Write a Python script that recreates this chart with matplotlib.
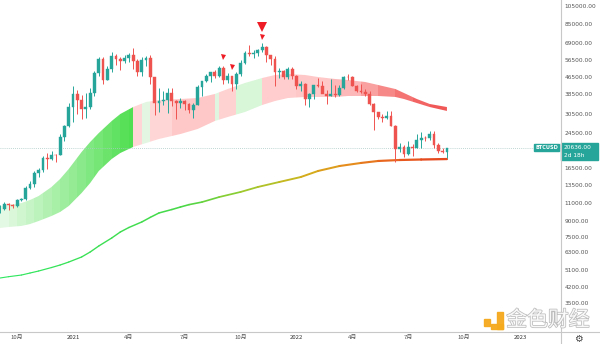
import numpy as np
import pandas as pd
import matplotlib
matplotlib.use('Agg')
import matplotlib.pyplot as plt
import matplotlib.dates as mdates
import matplotlib.patheffects as pe
from matplotlib.patches import Polygon, Rectangle
from matplotlib.collections import LineCollection
from matplotlib.colors import LinearSegmentedColormap
from matplotlib.lines import Line2D

# ---------------- data ----------------
# weekly BTCUSD candles, first week 2020-09-07
week_dates = pd.date_range('2020-09-07', periods=105, freq='7D')
opens = [10280, 10330, 10920, 10780, 10670, 11380, 11500, 13030, 13760, 15480, 16050, 18400, 18190, 19160, 19100, 23480, 26480,
         33000, 38150, 35800, 32260, 33100, 38900, 48600, 57400, 45200, 51000, 59000, 57400, 55800, 58200, 59800, 56200,
         49100, 56600, 58200, 46400, 34700, 35600, 35800, 39000, 35500, 34700, 35300, 34200, 31800, 34000, 41500, 44400,
         47000, 49300, 47100, 51800, 45200, 47300, 42800, 48200, 54700, 61500, 60900, 61300, 63300, 65500, 59700, 57200,
         49400, 50100, 46700, 50800,
         47300, 41900, 43100, 36300, 38500, 42400, 42200, 38400, 37700, 38400, 37800, 41300, 46800, 46400, 42200, 39700,
         39400, 38500, 34300, 31300, 29400, 29000, 29900, 26600, 20550, 21000, 19300, 20850, 20800, 22600, 23300, 23200,
         24400, 21500, 20000, 19800]
highs = [10800, 11180, 10990, 10950, 11490, 11720, 13350, 14100, 15960, 16490, 18800, 19500, 19920, 19420, 24300, 26900, 34800,
         41950, 40100, 37850, 38600, 41000, 49700, 58300, 58300, 52600, 61800, 60600, 58500, 60100, 61200, 64900, 57000,
         58500, 59500, 59600, 46600, 40900, 39500, 41300, 41000, 36000, 36600, 35900, 34700, 34500, 42600, 44700, 48200,
         49400, 50500, 52900, 52800, 48800, 47400, 49200, 56600, 62900, 67000, 63700, 64300, 69000, 66300, 59900, 59400,
         51900, 50600, 52100, 52100,
         47600, 44500, 43500, 38900, 42700, 45900, 44700, 40000, 45400, 42600, 42300, 47000, 48200, 47200, 42400, 42900,
         40800, 39900, 34600, 31400, 30600, 31700, 31600, 26900, 21900, 21500, 22500, 21600, 24300, 24700, 23600, 25200,
         25200, 21800, 20600, 20800]
lows = [9880, 10200, 10140, 10370, 10530, 11220, 11400, 12900, 13200, 14800, 15800, 16200, 18100, 17600, 19000, 22400, 26300,
        27800, 30400, 28800, 29200, 32300, 37400, 47000, 43000, 44900, 49300, 53200, 50300, 55000, 55500, 51200, 47000,
        47000, 53000, 43000, 30000, 31200, 34000, 31000, 33300, 28800, 32700, 32100, 31000, 29300, 33800, 37300, 43800,
        44200, 46300, 46500, 42800, 43400, 39600, 40800, 46900, 54000, 59500, 58000, 59500, 62300, 55600, 53500, 42000,
        46000, 45600, 45600, 45700,
        40500, 39600, 34000, 32900, 36200, 41700, 39400, 34300, 37500, 37200, 37600, 40500, 45200, 42100, 39200, 38600,
        37700, 33700, 25400, 28700, 28000, 28900, 26500, 17600, 19700, 18600, 19000, 18900, 20700, 20700, 22400, 22700,
        20800, 19600, 19500, 18500]
closes = [10330, 10920, 10780, 10670, 11380, 11500, 13030, 13760, 15480, 16050, 18400, 18190, 19160, 19100, 23480, 26480, 33000,
          38150, 35800, 32260, 33100, 38900, 48600, 57400, 45200, 51000, 59000, 57400, 55800, 58200, 59800, 56200, 49100,
          56600, 58200, 46400, 34700, 35600, 35800, 39000, 35500, 34700, 35300, 34200, 31800, 34000, 41500, 44400, 47000,
          49300, 47100, 51800, 45200, 47300, 42800, 48200, 54700, 61500, 60900, 61300, 63300, 65500, 59700, 57200, 49400,
          50100, 46700, 50800, 47300,
          41900, 43100, 36300, 38500, 42400, 42200, 38400, 37700, 38400, 37800, 41300, 46800, 46400, 42200, 39700, 39400,
          38500, 34300, 31300, 29400, 29000, 29900, 26600, 20550, 21000, 19300, 20850, 20800, 22600, 23300, 23200, 24400,
          21500, 20000, 19800, 20636]
last_price = 20636

# band (upper / lower edge)
band_dates = ['2020-09-07', '2020-09-21', '2020-10-12', '2020-10-26', '2020-11-09', '2020-11-30', '2020-12-14',
              '2020-12-28', '2021-01-18', '2021-02-01', '2021-02-15', '2021-03-08', '2021-03-22', '2021-04-12',
              '2021-05-03', '2021-05-24', '2021-06-28', '2021-07-26', '2021-08-23', '2021-09-13', '2021-10-11',
              '2021-11-08', '2021-11-29', '2021-12-20', '2022-01-17', '2022-02-07', '2022-03-07', '2022-03-28',
              '2022-04-25', '2022-05-16', '2022-06-13', '2022-06-27', '2022-07-18', '2022-08-08', '2022-09-05']
band_top = [10650, 10770, 11020, 11410, 11940, 13240, 14510, 16260, 19760, 22160, 24550, 28170, 30510, 33050,
            35010, 35810, 36230, 36640, 38370, 40620, 43510, 46060, 47680, 48230, 47680, 46600, 45550, 45020,
            44000, 42530, 40620, 38810, 36230, 34220, 33050]
band_bot = [8280, 8376, 8480, 8665, 8970, 9500, 9945, 10650, 12360, 13860, 15900, 18240, 19530, 20930,
            21900, 22930, 24270, 25710, 28170, 29490, 31220, 33820, 35410, 36640, 37080, 37080, 37080, 37500,
            37500, 37500, 37080, 36230, 34600, 33050, 31600]

# band state segments (start date, colour)
seg_starts = ['2020-09-07', '2020-09-21', '2020-10-05', '2020-10-19', '2020-11-02', '2020-11-16', '2020-11-30',
              '2020-12-14', '2020-12-28', '2021-01-11', '2021-01-25', '2021-02-08', '2021-02-22', '2021-03-08',
              '2021-03-22', '2021-04-05',
              '2021-04-12', '2021-04-26', '2021-05-10', '2021-06-14', '2021-08-23', '2021-08-30', '2021-09-27',
              '2021-11-08', '2022-01-03', '2022-02-28', '2022-04-18', '2022-05-16', '2022-06-13', '2022-07-11',
              '2022-08-08']
seg_colors = ['#e4f9e4', '#daf7da', '#d0f6d0', '#c6f4c6', '#bcf2bc', '#b2f0b2', '#a8efa8',
              '#9eed9e', '#94eb94', '#8ae98a', '#80e880', '#76e676', '#6ce46c', '#62e262',
              '#58e058', '#50df50',
              '#ffd5d5', '#e2f6e2', '#ffd6d6', '#ffc8c8', '#e0f5e0', '#ffd2d2', '#d8f6d8',
              '#ffcdcd', '#ffc8c8', '#fcb8b8', '#f9a0a0', '#f78888', '#f47474', '#f26464',
              '#f05858']
seg_end = '2022-09-12'

# long moving average
ma_dates = ['2020-09-07', '2020-09-21', '2020-10-12', '2020-10-26', '2020-11-09', '2020-11-30', '2020-12-14',
            '2020-12-28', '2021-01-18', '2021-02-01', '2021-02-15', '2021-03-08', '2021-03-22', '2021-04-05',
            '2021-04-26', '2021-05-10', '2021-05-24', '2021-06-14', '2021-06-28', '2021-07-12', '2021-08-02',
            '2021-08-30', '2021-10-04', '2021-11-01', '2021-12-06', '2022-01-10', '2022-02-07', '2022-03-14',
            '2022-04-18', '2022-05-16', '2022-06-20', '2022-07-25', '2022-09-05']
ma_vals = [4673, 4744, 4835, 4948, 5063, 5269, 5423, 5610, 5944, 6294, 6741, 7385, 7910, 8329,
           8873, 9358, 9835, 10231, 10530, 10820, 11140, 11800, 12510, 13240, 14020, 14840, 15900, 16830,
           17430, 17830, 18030, 18130, 18230]

# sell signals
sig_small_dates = ['2021-09-06', '2021-09-20', '2021-11-08']
sig_small_vals = [58600, 52300, 73600]
sig_big_dates = ['2021-11-08']
sig_big_vals = [82600]

yticks = [105000, 85000, 69000, 56500, 46500, 38500, 30500, 24500, 16500, 13500, 11000, 9000, 7500, 6300,
          5100, 4200, 3500]
xtick_dates = ['2020-10-05', '2021-01-04', '2021-04-05', '2021-07-05', '2021-10-04', '2022-01-03',
               '2022-04-04', '2022-07-04', '2022-10-03', '2023-01-02']
xtick_labels = ['10月', '2021', '4月', '7月', '10月', '2022', '4月', '7月', '10月', '2023']

# ---------------- plot ----------------
UP = '#26a69a'
DOWN = '#ef5350'
CJK = ['Noto Sans CJK SC', 'DejaVu Sans']


def d2n(lst):
    return mdates.date2num(pd.to_datetime(lst).values)


def px(x, y):
    return x / 600, 1 - y / 344


fig = plt.figure(figsize=(6, 3.44), dpi=100)
ax = fig.add_axes([0, 12 / 344, 561 / 600, 332 / 344])
ax.set_yscale('log')
ax.set_ylim(2520, 112450)
t0 = mdates.date2num(pd.Timestamp('2021-01-04'))
ax.set_xlim(t0 - 73 / 0.614, t0 + (561 - 73) / 0.614)
for s in ax.spines.values():
    s.set_visible(False)

# band clipped colour segments
bx = d2n(band_dates)
poly = Polygon(np.column_stack([np.r_[bx, bx[::-1]], np.r_[band_top, band_bot[::-1]]]),
               closed=True, facecolor='none', edgecolor='none')
ax.add_patch(poly)
starts = d2n(seg_starts)
ends = np.r_[starts[1:], d2n([seg_end])]
for s, e, c in zip(starts, ends, seg_colors):
    r = ax.axvspan(s, e, color=c, lw=0, zorder=1)
    r.set_clip_path(poly)

# moving average with colour gradient
mx = d2n(ma_dates)
pts = np.column_stack([mx, ma_vals])
segs = np.stack([pts[:-1], pts[1:]], axis=1)
cmap = LinearSegmentedColormap.from_list('ma', [(0, '#2ee860'), (0.4, '#48d848'), (0.52, '#9acb2e'),
                                                (0.66, '#d2b21c'), (0.76, '#e58c1c'), (0.86, '#e8601e'),
                                                (1, '#e33a1e')])
frac = (mx[:-1] - mx[0]) / (mx[-1] - mx[0])
lc = LineCollection(segs, colors=cmap(frac), linewidths=0.8 + 0.9 * frac, zorder=2, capstyle='round')
ax.add_collection(lc)

# last price line
ax.axhline(last_price, color='#a9c9c5', lw=0.6, ls=(0, (1, 1.5)), zorder=2)

# candles
wx = mdates.date2num(week_dates.values)
o, h, l, c = map(np.array, (opens, highs, lows, closes))
col = np.where(c >= o, UP, DOWN)
ax.vlines(wx, l, h, colors=col, lw=0.7, zorder=3)
ax.bar(wx, np.abs(c - o), bottom=np.minimum(o, c), width=4.6, color=col, edgecolor=col, lw=0.3, zorder=4)

# signals
ax.plot(d2n(sig_small_dates), sig_small_vals, 'v', color='#ee1c25', ms=3.6, mew=0, zorder=5)
ax.plot(d2n(sig_big_dates), sig_big_vals, 'v', color='#ee1c25', ms=7.5, mew=0, zorder=5)

# axes ticks
ax.yaxis.tick_right()
ax.set_yticks(yticks)
ax.set_yticklabels(['%.2f' % v for v in yticks])
ax.yaxis.set_minor_locator(matplotlib.ticker.NullLocator())
ax.tick_params(axis='y', length=0, pad=2.5, labelsize=4.2, labelcolor='#555555')
ax.set_xticks(d2n(xtick_dates))
ax.set_xticklabels(xtick_labels, fontfamily=CJK)
ax.tick_params(axis='x', length=0, pad=2.2, labelsize=4.3, labelcolor='#555555')
for t in ax.get_xticklabels():
    if t.get_text().isdigit():
        t.set_color('#333333')

# frame lines
fig.add_artist(Line2D([561 / 600, 561 / 600], [0, 1], color='#c8c8c8', lw=0.8))
fig.add_artist(Line2D([0, 1], [12 / 344, 12 / 344], color='#c8c8c8', lw=0.8))

# price labels
x0, y0 = px(534, 151)
fig.add_artist(Rectangle((x0, y0), 25 / 600, 7 / 344, color=UP, transform=fig.transFigure))
fig.text(*px(546.5, 147.5), 'BTCUSD', color='white', fontsize=3.6, fontweight='bold', ha='center', va='center')
x0, y0 = px(561, 160)
fig.add_artist(Rectangle((x0, y0), 37 / 600, 17 / 344, color=UP, transform=fig.transFigure))
fig.text(*px(564, 147.5), '20636.00', color='white', fontsize=4.2, ha='left', va='center')
fig.text(*px(564, 155.5), '2d 18h', color='white', fontsize=4.2, ha='left', va='center')

# gear
fig.text(*px(578, 338.5), '\u2699', color='#444444', fontsize=7, ha='center', va='center')

# watermark
for (xa, ya, w, hh) in [(484, 326, 6, 7), (497, 329, 6, 17), (491, 329, 12, 5)]:
    x0, y0 = px(xa, ya)
    fig.add_artist(Rectangle((x0, y0), w / 600, hh / 344, color='#f5a91d', transform=fig.transFigure, alpha=0.95))
fig.text(*px(548, 320), '金色财经', fontfamily=CJK, fontsize=15, color='white', alpha=0.9,
         ha='center', va='center',
         path_effects=[pe.Stroke(linewidth=1.1, foreground='#b5b5b5'), pe.Normal()])

fig.savefig('out.png', dpi=100)
